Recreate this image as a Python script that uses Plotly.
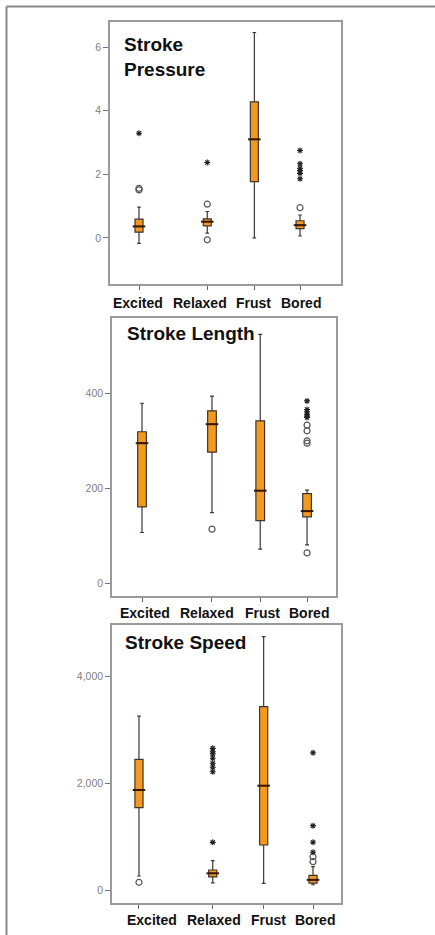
import plotly.graph_objects as go

# ---------------- data ----------------
categories = ["Excited", "Relaxed", "Frust", "Bored"]

# Stroke Pressure
pressure_q1 = [0.18, 0.38, 1.77, 0.29]
pressure_median = [0.36, 0.51, 3.10, 0.40]
pressure_q3 = [0.59, 0.60, 4.28, 0.54]
pressure_low = [-0.17, 0.15, 0.00, 0.06]
pressure_high = [0.97, 0.83, 6.46, 0.72]
pressure_circ_cat = ["Excited", "Excited", "Relaxed", "Relaxed", "Bored"]
pressure_circ_val = [1.56, 1.51, 1.06, -0.06, 0.95]
pressure_star_cat = ["Excited", "Relaxed", "Bored", "Bored", "Bored", "Bored", "Bored", "Bored"]
pressure_star_val = [3.29, 2.37, 2.75, 2.33, 2.19, 2.12, 2.03, 1.86]
pressure_ticks = [0, 2, 4, 6]
pressure_ticktext = ["0", "2", "4", "6"]

# Stroke Length
length_q1 = [161, 276, 132, 140]
length_median = [295, 335, 195, 152]
length_q3 = [319, 363, 342, 189]
length_low = [107, 149, 72, 81]
length_high = [379, 394, 524, 196]
length_circ_cat = ["Relaxed", "Bored", "Bored", "Bored", "Bored", "Bored"]
length_circ_val = [114, 333, 321, 300, 295, 64]
length_star_cat = ["Bored", "Bored", "Bored", "Bored", "Bored", "Bored"]
length_star_val = [384, 366, 361, 356, 352, 349]
length_ticks = [0, 200, 400]
length_ticktext = ["0", "200", "400"]

# Stroke Speed
speed_q1 = [1545, 245, 844, 128]
speed_median = [1876, 313, 1957, 190]
speed_q3 = [2452, 375, 3439, 275]
speed_low = [263, 132, 125, 98]
speed_high = [3264, 550, 4753, 437]
speed_circ_cat = ["Excited", "Bored", "Bored"]
speed_circ_val = [144, 625, 531]
speed_star_cat = ["Relaxed"] * 8 + ["Bored"] * 4
speed_star_val = [2658, 2595, 2552, 2471, 2377, 2302, 2219, 894, 2576, 1207, 895, 707]
speed_ticks = [0, 2000, 4000]
speed_ticktext = ["0", "2,000", "4,000"]

titles = ["Stroke<br>Pressure", "Stroke Length", "Stroke Speed"]

# ---------------- layout constants ----------------
W, H = 435, 935
cat_pos = [0, 1.45, 2.45, 3.42]
pos_of = dict(zip(categories, cat_pos))

panels = [
    dict(q1=pressure_q1, med=pressure_median, q3=pressure_q3, lo=pressure_low, hi=pressure_high,
         cc=pressure_circ_cat, cv=pressure_circ_val, sc=pressure_star_cat, sv=pressure_star_val,
         tv=pressure_ticks, tt=pressure_ticktext,
         px=(110, 341), py=(22, 284), xr=[-0.616, 4.29], yr=[-1.45, 6.79], bw=0.17,
         title_xy=(122, 57), label_x=[138, 200, 253, 301], label_y=303),
    dict(q1=length_q1, med=length_median, q3=length_q3, lo=length_low, hi=length_high,
         cc=length_circ_cat, cv=length_circ_val, sc=length_star_cat, sv=length_star_val,
         tv=length_ticks, tt=length_ticktext,
         px=(112, 336), py=(318, 596), xr=[-0.622, 4.02], yr=[-26.7, 558.5], bw=0.18,
         title_xy=(125, 333), label_x=[145, 207, 262, 309], label_y=613),
    dict(q1=speed_q1, med=speed_median, q3=speed_q3, lo=speed_low, hi=speed_high,
         cc=speed_circ_cat, cv=speed_circ_val, sc=speed_star_cat, sv=speed_star_val,
         tv=speed_ticks, tt=speed_ticktext,
         px=(112, 341), py=(625, 903), xr=[-0.53, 3.97], yr=[-244, 4972], bw=0.16,
         title_xy=(123, 642), label_x=[152, 214, 268, 315], label_y=920),
]

ORANGE = "#F39A1E"
FONT = "Liberation Sans, Arial, sans-serif"
fig = go.Figure()
layout = dict(
    width=W, height=H, margin=dict(l=0, r=0, t=0, b=0),
    paper_bgcolor="white", plot_bgcolor="white", showlegend=False,
    annotations=[], shapes=[],
)

for i, p in enumerate(panels, start=1):
    xa = "x" if i == 1 else f"x{i}"
    ya = "y" if i == 1 else f"y{i}"
    xs = [pos_of[c] for c in categories]
    fig.add_trace(go.Box(
        x=xs, q1=p["q1"], median=p["med"], q3=p["q3"],
        lowerfence=p["lo"], upperfence=p["hi"],
        boxpoints=False, width=p["bw"], whiskerwidth=0.45,
        fillcolor=ORANGE, line=dict(color="#3e3630", width=1.2),
        xaxis=xa, yaxis=ya, hoverinfo="skip",
    ))
    # thicker dark median bar
    fig.add_trace(go.Scatter(
        x=xs, y=p["med"], mode="markers", xaxis=xa, yaxis=ya,
        marker=dict(symbol="line-ew-open", size=9, color="#3a1606",
                    line=dict(color="#3a1606", width=2)),
        hoverinfo="skip",
    ))
    fig.add_trace(go.Scatter(
        x=[pos_of[c] for c in p["cc"]], y=p["cv"], mode="markers", xaxis=xa, yaxis=ya,
        marker=dict(symbol="circle-open", size=6, color="#555555", line=dict(width=1.2, color="#555555")),
        hoverinfo="skip",
    ))
    fig.add_trace(go.Scatter(
        x=[pos_of[c] for c in p["sc"]], y=p["sv"], mode="markers", xaxis=xa, yaxis=ya,
        marker=dict(symbol="asterisk-open", size=5, color="#222222", line=dict(width=1.1, color="#222222")),
        hoverinfo="skip",
    ))

    x0, x1 = p["px"]
    y0, y1 = p["py"]
    key_x = "xaxis" if i == 1 else f"xaxis{i}"
    key_y = "yaxis" if i == 1 else f"yaxis{i}"
    layout[key_x] = dict(
        domain=[x0 / W, x1 / W], range=p["xr"], anchor=ya,
        tickmode="array", tickvals=cat_pos, ticktext=["", "", "", ""],
        ticks="outside", ticklen=4, tickwidth=1, tickcolor="#666666",
        showline=True, linecolor="#9a9a9a", linewidth=1.5, mirror=True,
        showgrid=False, zeroline=False, fixedrange=True,
    )
    layout[key_y] = dict(
        domain=[1 - y1 / H, 1 - y0 / H], range=p["yr"], anchor=xa,
        tickmode="array", tickvals=p["tv"], ticktext=p["tt"],
        ticks="outside", ticklen=5, tickwidth=1, tickcolor="#777777",
        tickfont=dict(family=FONT, size=10.5, color="#808080"),
        showline=True, linecolor="#9a9a9a", linewidth=1.5, mirror=True,
        showgrid=False, zeroline=False, fixedrange=True,
    )
    tx, ty = p["title_xy"]
    layout["annotations"].append(dict(
        text=f"<b>{titles[i-1]}</b>", x=tx / W, y=1 - ty / H, xref="paper", yref="paper",
        xanchor="left", yanchor="middle", align="left", showarrow=False,
        font=dict(family=FONT, size=19, color="#111111"),
    ))
    for lab, lx in zip(categories, p["label_x"]):
        layout["annotations"].append(dict(
            text=f"<b>{lab}</b>", x=lx / W, y=1 - p["label_y"] / H, xref="paper", yref="paper",
            xanchor="center", yanchor="middle", showarrow=False,
            font=dict(family=FONT, size=14, color="#111111"),
        ))

# outer page frame (top and left edges)
layout["shapes"].append(dict(type="line", xref="paper", yref="paper",
                             x0=6.5 / W, x1=1, y0=1 - 6.5 / H, y1=1 - 6.5 / H,
                             line=dict(color="#8a8a8a", width=2)))
layout["shapes"].append(dict(type="line", xref="paper", yref="paper",
                             x0=6.5 / W, x1=6.5 / W, y0=0, y1=1 - 6.5 / H,
                             line=dict(color="#8a8a8a", width=2)))

fig.update_layout(**layout)
fig.write_html(
    "out.html",
    config={"displayModeBar": False},
    post_script="document.body.style.margin='0';document.body.style.overflow='hidden';",
)
